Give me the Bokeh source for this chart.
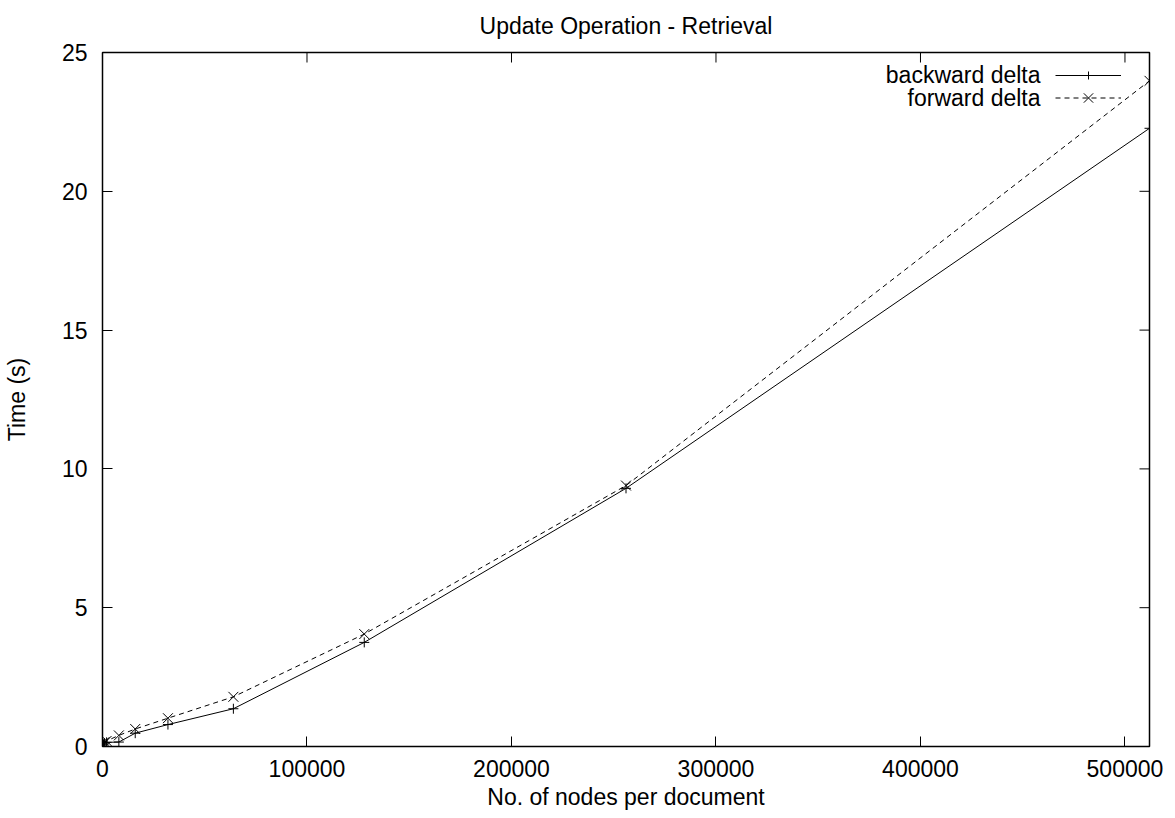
from bokeh.plotting import figure
from bokeh.models import (Range1d, FixedTicker, Legend, LegendItem, Label,
                          BasicTickFormatter, ColumnDataSource)
from bokeh.core.properties import value
from bokeh.embed import file_html
from bokeh.resources import INLINE

# ---- data ----
nodes = [500, 1000, 2000, 8000, 16000, 32000, 64000, 128000, 256000, 512000]
backward_delta = [0.08, 0.12, 0.15, 0.16, 0.48, 0.79, 1.36, 3.75, 9.30, 22.27]
forward_delta = [0.12, 0.16, 0.20, 0.40, 0.63, 1.02, 1.79, 4.05, 9.40, 23.98]
x_ticks = [0, 100000, 200000, 300000, 400000, 500000]
y_ticks = [0, 5, 10, 15, 20, 25]
series_names = ["backward delta", "forward delta"]
title_text = "Update Operation - Retrieval"
x_label = "No. of nodes per document"
y_label = "Time (s)"
x_max = 512000
y_max = 25

# ---- layout / style ----
FONT = "Liberation Sans"
FS = "23px"
W, H = 1175, 812
B_LEFT, B_RIGHT, B_TOP, B_BOTTOM = 102, 26, 52, 66
FRAME_W = W - B_LEFT - B_RIGHT
FRAME_H = H - B_TOP - B_BOTTOM
TICK = 10  # px, inward

p = figure(width=W, height=H,
           x_range=Range1d(0, x_max), y_range=Range1d(0, y_max),
           output_backend="svg", toolbar_location=None,
           min_border_left=B_LEFT, min_border_right=B_RIGHT,
           min_border_top=B_TOP, min_border_bottom=B_BOTTOM)
p.background_fill_color = "white"
p.border_fill_color = "white"
p.outline_line_color = "black"
p.outline_line_width = 1.5
p.grid.visible = False

p.title.text = title_text
p.title.align = "center"
p.title.vertical_align = "top"
p.title.text_font = FONT
p.title.text_font_size = FS
p.title.text_font_style = "normal"
p.title.text_color = "black"
p.title.standoff = 24

def style_axis(ax):
    ax.major_tick_in = TICK
    ax.major_tick_out = 0
    ax.major_tick_line_color = "black"
    ax.major_tick_line_width = 1
    ax.minor_tick_line_color = None
    ax.axis_line_color = None
    ax.major_label_text_font = FONT
    ax.major_label_text_font_size = FS
    ax.major_label_text_color = "black"
    ax.axis_label_text_font = FONT
    ax.axis_label_text_font_size = FS
    ax.axis_label_text_font_style = "normal"
    ax.axis_label_text_color = "black"

xa = p.xaxis[0]
xa.ticker = FixedTicker(ticks=x_ticks)
xa.formatter = BasicTickFormatter(use_scientific=False)
xa.axis_label = x_label
style_axis(xa)
xa.major_label_standoff = 13
xa.axis_label_standoff = 4

ya = p.yaxis[0]
ya.ticker = FixedTicker(ticks=y_ticks)
ya.axis_label = y_label
style_axis(ya)
ya.major_label_standoff = 15
ya.axis_label_standoff = 29

# mirrored inward ticks on top and right edges (gnuplot style)
dy_tick = TICK * y_max / FRAME_H
dx_tick = TICK * x_max / FRAME_W
p.segment(x0=x_ticks, y0=[y_max] * len(x_ticks), x1=x_ticks, y1=[y_max - dy_tick] * len(x_ticks),
          line_color="black", line_width=1)
p.segment(x0=[x_max] * len(y_ticks), y0=y_ticks, x1=[x_max - dx_tick] * len(y_ticks), y1=y_ticks,
          line_color="black", line_width=1)

src = ColumnDataSource(dict(nodes=nodes, backward=backward_delta, forward=forward_delta))
lb = p.line("nodes", "backward", source=src, line_color="black", line_width=1)
mb = p.scatter("nodes", "backward", source=src, marker="cross", size=10,
               line_color="black", line_width=1)
lf = p.line("nodes", "forward", source=src, line_color="black", line_width=1, line_dash="5 4")
mf = p.scatter("nodes", "forward", source=src, marker="x", size=14,
               line_color="black", line_width=1)

# gnuplot-style key: text right-aligned, sample to its right
row_y = [FRAME_H - 22.5, FRAME_H - 45.8]
for rend, gh, cy in (([lb, mb], 20, row_y[0]), ([lf, mf], 33, row_y[1])):
    lg = Legend(items=[LegendItem(label=value(" "), renderers=rend)],
                location=(953, cy - gh / 2), glyph_width=66, glyph_height=gh,
                label_width=0, label_standoff=0, label_height=gh, padding=0, spacing=0, margin=0,
                border_line_color=None, background_fill_alpha=0,
                label_text_font_size="1px")
    p.add_layout(lg)

for name, cy in zip(series_names, row_y):
    p.add_layout(Label(x=938, y=cy, x_units="screen", y_units="screen", text=name,
                       text_align="right", text_baseline="middle",
                       text_font=FONT, text_font_size=FS, text_color="black"))

open("out.html", "w").write(file_html(p, INLINE))
